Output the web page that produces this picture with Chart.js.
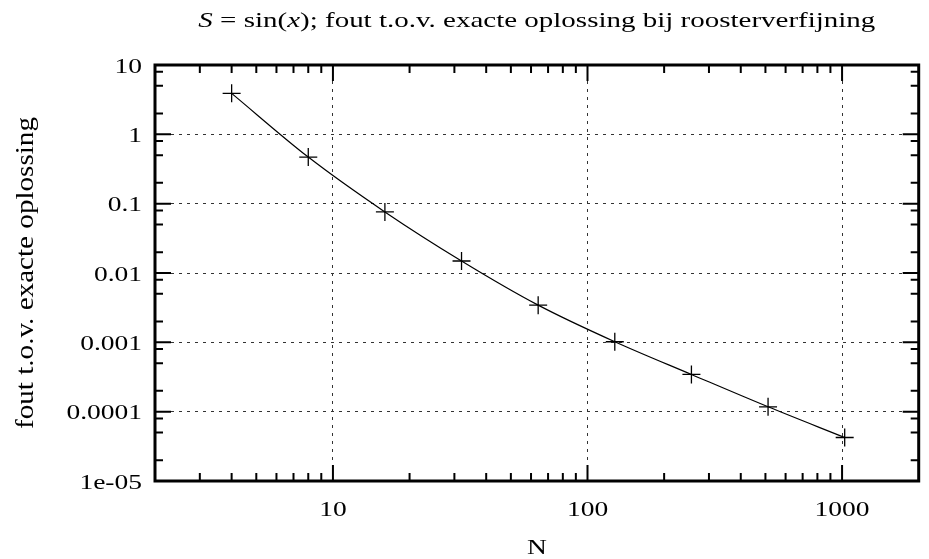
<!DOCTYPE html>
<html>
<head>
<meta charset="utf-8">
<script src="https://cdn.jsdelivr.net/npm/chart.js@4.4.1/dist/chart.umd.min.js"></script>
<style>
  html, body { margin: 0; padding: 0; background: #fff; }
  #wrap { width: 929px; height: 559px; }
</style>
</head>
<body>
<div id="wrap"><canvas id="chart"></canvas></div>
<script>
// gegevens
const roosterN = [4, 8, 16, 32, 64, 128, 256, 512, 1024];
const foutWaarden = [3.9, 0.47, 0.076, 0.0149, 0.00344, 0.00102, 0.000344, 0.0001175, 0.0000424];

const xTickWaarden = [10, 100, 1000];
const xTickLabels = ['10', '100', '1000'];
const yTickWaarden = [10, 1, 0.1, 0.01, 0.001, 0.0001, 0.00001];
const yTickLabels = ['10', '1', '0.1', '0.01', '0.001', '0.0001', '1e-05'];
const xMinorFactoren = [2, 3, 4, 5, 6, 7, 8, 9];
const yMinorFactoren = [2, 5, 8];

// titel in stukjes, true = cursief (wiskunde)
const titelDelen = [['S', true], [' = sin(', false], ['x', true], ['); fout t.o.v. exacte oplossing bij roosterverfijning', false]];
const xTitel = 'N';
const yTitel = 'fout t.o.v. exacte oplossing';

const lettertype = "'Liberation Serif', 'DejaVu Serif', serif";
const grootte = 22;
const rek = 1.25; // tekst in het origineel is breder dan hoog

function tekst(ctx, str, x, y, align) {
    ctx.save();
    ctx.translate(x, y);
    ctx.scale(rek, 1);
    ctx.textAlign = align;
    ctx.textBaseline = 'alphabetic';
    ctx.fillText(str, 0, 0);
    ctx.restore();
}

// kader, tickjes naar binnen, labels en titels (gnuplot-stijl)
const kaderPlugin = {
    id: 'kader',
    afterDraw(chart) {
        const ctx = chart.ctx;
        const a = chart.chartArea;
        const xs = chart.scales.x, ys = chart.scales.y;
        ctx.save();
        ctx.strokeStyle = '#000';
        ctx.lineWidth = 2;
        ctx.lineCap = 'butt';

        function tickX(v, len) {
            const px = xs.getPixelForValue(v);
            if (px < a.left + 1 || px > a.right - 1) return;
            ctx.beginPath();
            ctx.moveTo(px, a.bottom); ctx.lineTo(px, a.bottom - len);
            ctx.moveTo(px, a.top); ctx.lineTo(px, a.top + len);
            ctx.stroke();
        }
        function tickY(v, len) {
            const py = ys.getPixelForValue(v);
            if (py < a.top + 1 || py > a.bottom - 1) return;
            ctx.beginPath();
            ctx.moveTo(a.left, py); ctx.lineTo(a.left + len, py);
            ctx.moveTo(a.right, py); ctx.lineTo(a.right - len, py);
            ctx.stroke();
        }

        for (let e = 0; e <= 3; e++) {
            xMinorFactoren.forEach(f => tickX(f * Math.pow(10, e), 8));
        }
        xTickWaarden.forEach(v => tickX(v, 16));
        for (let e = -5; e <= 0; e++) {
            yMinorFactoren.forEach(f => tickY(f * Math.pow(10, e), 8));
        }
        yTickWaarden.forEach(v => tickY(v, 16));

        ctx.lineWidth = 3;
        ctx.strokeRect(a.left, a.top, a.right - a.left, a.bottom - a.top);

        // as-labels
        ctx.fillStyle = '#000';
        ctx.font = grootte + 'px ' + lettertype;
        xTickWaarden.forEach((v, i) => tekst(ctx, xTickLabels[i], xs.getPixelForValue(v), a.bottom + 35, 'center'));
        yTickWaarden.forEach((v, i) => tekst(ctx, yTickLabels[i], a.left - 13, ys.getPixelForValue(v) + 7.5, 'right'));
        tekst(ctx, xTitel, (a.left + a.right) / 2, 554, 'center');

        // titel, opgerekt tot de breedte van het origineel
        let totaal = 0;
        const breedtes = titelDelen.map(([t, cursief]) => {
            ctx.font = (cursief ? 'italic ' : '') + grootte + 'px ' + lettertype;
            const w = ctx.measureText(t).width;
            totaal += w;
            return w;
        });
        const doelBreedte = 677;
        ctx.save();
        ctx.translate((a.left + a.right) / 2 - doelBreedte / 2, 27);
        ctx.scale(doelBreedte / totaal, 1);
        let x = 0;
        titelDelen.forEach(([t, cursief], i) => {
            ctx.font = (cursief ? 'italic ' : '') + grootte + 'px ' + lettertype;
            ctx.fillText(t, x, 0);
            x += breedtes[i];
        });
        ctx.restore();

        // y-as titel
        ctx.save();
        ctx.font = grootte + 'px ' + lettertype;
        const wy = ctx.measureText(yTitel).width;
        const doelY = 312;
        ctx.translate(26, (a.top + a.bottom) / 2);
        ctx.rotate(-Math.PI / 2);
        ctx.scale(doelY / wy, 1.15);
        ctx.textAlign = 'center';
        ctx.textBaseline = 'middle';
        ctx.fillText(yTitel, 0, 0);
        ctx.restore();

        ctx.restore();
    }
};

const ctx = document.getElementById('chart').getContext('2d');
const chart = new Chart(ctx, {
    type: 'line',
    data: {
        datasets: [{
            label: 'fout',
            data: roosterN.map((n, i) => ({ x: n, y: foutWaarden[i] })),
            borderColor: '#000',
            borderWidth: 1.2,
            cubicInterpolationMode: 'monotone',
            pointStyle: 'cross',
            pointRadius: 9,
            pointHoverRadius: 9,
            pointBorderWidth: 1.3,
            pointBorderColor: '#000',
            pointBackgroundColor: '#000',
            fill: false
        }]
    },
    options: {
        responsive: true,
        maintainAspectRatio: false,
        animation: false,
        devicePixelRatio: 1,
        layout: { padding: { top: 65, right: 1, left: 0, bottom: 0 } },
        plugins: {
            legend: { display: false },
            tooltip: { enabled: false },
            title: { display: false }
        },
        scales: {
            x: {
                type: 'logarithmic',
                min: 2,
                max: 2000,
                afterBuildTicks: (s) => { s.ticks = xTickWaarden.map(v => ({ value: v })); },
                afterFit: (s) => { s.height = 78; },
                ticks: { display: false },
                grid: { color: '#333', lineWidth: 1, drawTicks: false, tickLength: 0 },
                border: { display: false, dash: [3, 5] },
                title: { display: false }
            },
            y: {
                type: 'logarithmic',
                min: 0.00001,
                max: 10,
                afterBuildTicks: (s) => { s.ticks = yTickWaarden.map(v => ({ value: v })); },
                afterFit: (s) => { s.width = 155; },
                ticks: { display: false },
                grid: { color: '#333', lineWidth: 1, drawTicks: false, tickLength: 0 },
                border: { display: false, dash: [3, 5] },
                title: { display: false }
            }
        }
    },
    plugins: [kaderPlugin]
});
</script>
</body>
</html>
